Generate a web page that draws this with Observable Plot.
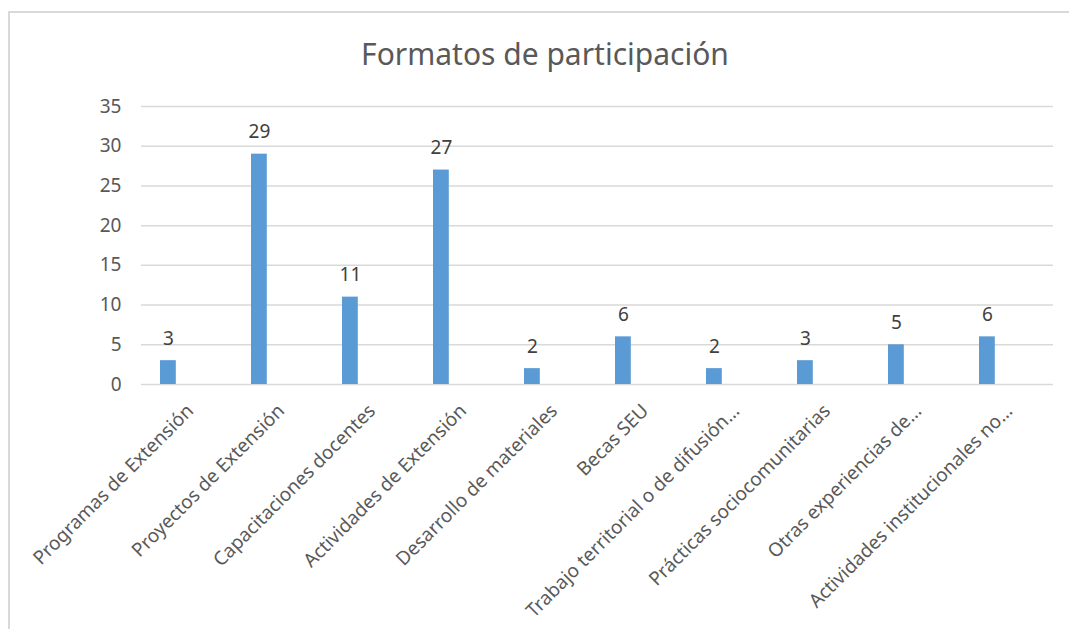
<!DOCTYPE html>
<html>
<head>
<meta charset="utf-8">
<script src="https://cdn.jsdelivr.net/npm/d3@7"></script>
<script src="https://cdn.jsdelivr.net/npm/@observablehq/plot@0.6"></script>
<style>
  html, body { margin: 0; padding: 0; background: #fff; }
  #wrap { position: relative; width: 1069px; height: 629px; overflow: hidden; font-family: "Noto Sans", sans-serif; }
  #frame { position: absolute; left: 8px; top: 11px; right: -5px; bottom: -5px; border-left: 2px solid #d9d9d9; border-top: 2px solid #d9d9d9; }
  #title { position: absolute; left: 0; width: 1090px; top: 36px; text-align: center; font-size: 30px; color: #595959; line-height: 1.2; }
  #chart { position: absolute; left: 0; top: 0; }
</style>
</head>
<body>
<div id="wrap">
  <div id="frame"></div>
  <div id="chart"></div>
  <div id="title">Formatos de participación</div>
</div>
<script>
const categories = [
  "Programas de Extensión",
  "Proyectos de Extensión",
  "Capacitaciones docentes",
  "Actividades de Extensión",
  "Desarrollo de materiales",
  "Becas SEU",
  "Trabajo territorial o de difusión…",
  "Prácticas sociocomunitarias",
  "Otras experiencias de…",
  "Actividades institucionales no…"
];
const values = [3, 29, 11, 27, 2, 6, 2, 3, 5, 6];
const yTicks = [0, 5, 10, 15, 20, 25, 30, 35];

const data = categories.map((c, i) => ({category: c, value: values[i]}));

const chart = Plot.plot({
  width: 1069,
  height: 629,
  marginLeft: 141,
  marginRight: 16,
  marginTop: 106,
  marginBottom: 245,
  style: {fontFamily: "Noto Sans, sans-serif", fontSize: "19px", color: "#595959", background: "transparent"},
  x: {domain: categories, padding: 0, axis: null},
  y: {domain: [0, 35], ticks: yTicks, axis: null},
  marks: [
    Plot.gridY(yTicks, {stroke: "#d9d9d9", strokeOpacity: 1, strokeWidth: 1.5}),
    Plot.axisY(yTicks, {tickSize: 0, tickPadding: 20, fill: "#595959", fontSize: 19, label: null}),
    Plot.barY(data, {x: "category", y: "value", fill: "#5b9bd5", insetLeft: 18, insetRight: 57.2}),
    Plot.text(data, {x: "category", y: "value", text: d => String(d.value), dx: -19.6, dy: -16, lineAnchor: "bottom", fill: "#404040", fontSize: 19}),
    Plot.text(data, {x: "category", frameAnchor: "bottom", text: "category", rotate: -45, textAnchor: "end", lineAnchor: "top", dx: -3, dy: 18, fill: "#595959", fontSize: 19})
  ]
});
document.getElementById("chart").appendChild(chart);
</script>
</body>
</html>
